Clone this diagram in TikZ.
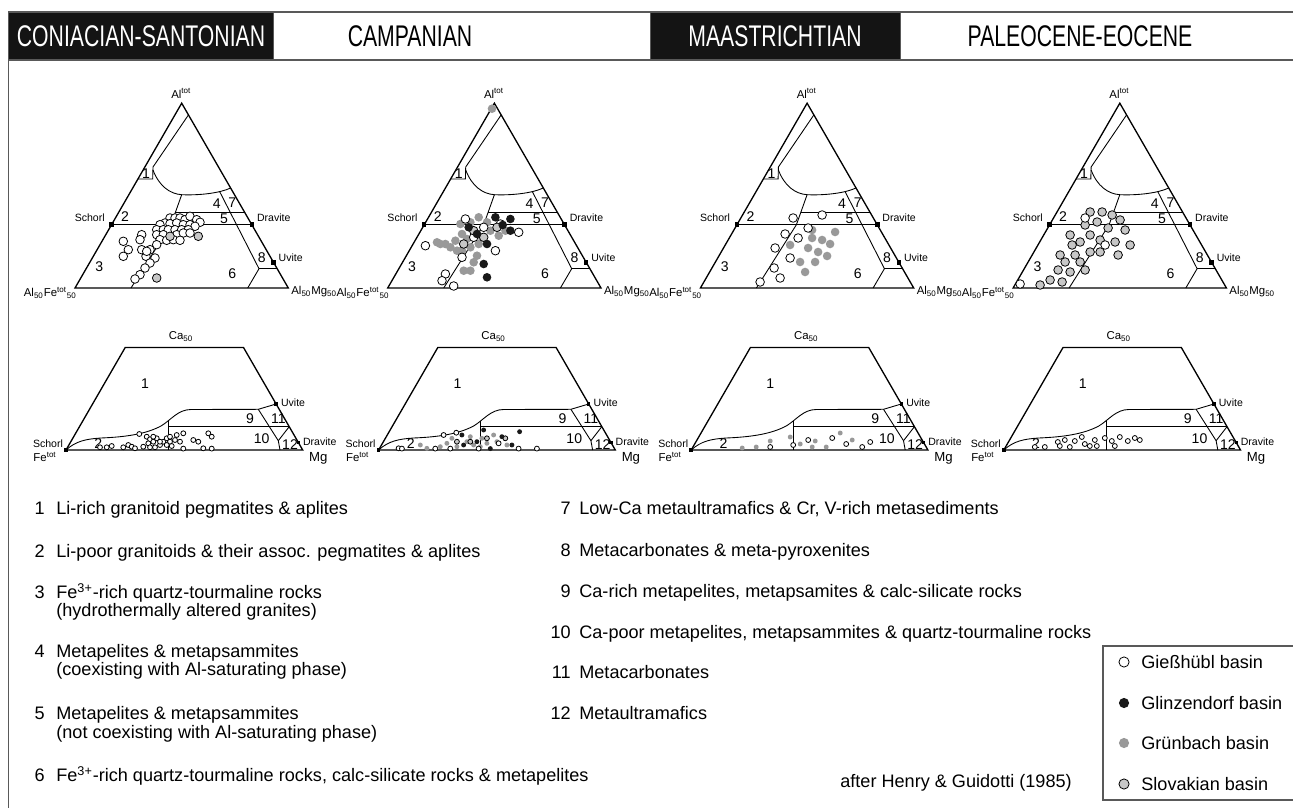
\documentclass[tikz,border=0pt]{standalone}
\usepackage{fontspec}
\setmainfont{Liberation Sans}
\newfontfamily\narrowsans[FakeStretch=0.71]{Liberation Sans}
\usetikzlibrary{positioning}

\newcommand\fsz[1]{\fontsize{#1}{#1}\selectfont}

% Al - Al50Fe50 - Al50Mg50 frame, local units, y pointing up
\newcommand\drawAFM[1]{%
  \draw[triedge] (0,0) coordinate (#1-fe) -- (213.3,0) coordinate (#1-mg)
    -- (106.7,184.8) coordinate (#1-al) -- cycle;
  \coordinate (#1-sch) at (36.5,63.3);
  \coordinate (#1-dra) at (176.8,63.3);
  \coordinate (#1-uvi) at (198.5,25.7);
  \coordinate (#1-k) at (106.7,93.3);
  \coordinate (#1-j) at (184,19.3);
  \draw[fld] (#1-sch) -- (#1-dra);
  \draw[fld] (100.4,75.7) -- (169.6,75.7);
  \draw[fld] (62.9,109) -- (77.7,109) -- (78,121) -- (113.4,173);
  \draw[fld] (78,118) .. controls (84,102) and (95,94) .. (#1-k)
    .. controls (125,92.5) and (145,95) .. (155.6,100);
  \draw[fld] (#1-k) -- (96,63.3) -- (56,0);
  \draw[fld] (144.6,96.5) -- (#1-j) -- (172.7,0);
  \draw[fld] (#1-j) -- (202.2,19.3);
  \node[sq] (#1-msch) at (#1-sch) {};
  \node[sq] (#1-mdra) at (#1-dra) {};
  \node[sq] (#1-muvi) at (#1-uvi) {};
  \node[fno] (#1-f1) at (71,114.3) {1};
  \node[fno] (#1-f2) at (50,71.7) {2};
  \node[fno] (#1-f3) at (24.3,21.7) {3};
  \node[fno] (#1-f4) at (141.7,84.3) {4};
  \node[fno] (#1-f5) at (149,69.3) {5};
  \node[fno] (#1-f6) at (157.3,14.3) {6};
  \node[fno] (#1-f7) at (157.3,85) {7};
  \node[fno] (#1-f8) at (186.7,30) {8};
  \node[emb, anchor=east] (#1-lsch) at (30,70.7) {Schorl};
  \node[emb, anchor=west] (#1-ldra) at (181.7,70.7) {Dravite};
  \node[emb, anchor=west] (#1-luvi) at (203.3,30.7) {Uvite};
  \node[cor] (#1-lal) at (106.3,194.7) {Al\textsuperscript{tot}};
  \node[cor, anchor=east] (#1-lfe) at (2,-5) {Al\textsubscript{50}Fe\textsuperscript{tot}\textsubscript{50}};
  \node[cor, anchor=west] (#1-lmg) at (216,-4) {Al\textsubscript{50}Mg\textsubscript{50}};
}

% Ca - Fe - Mg frame (lower half), local units, y pointing up
\newcommand\drawCFM[1]{%
  \draw[triedge] (0,0) coordinate (#1-fe) -- (236.7,0) coordinate (#1-mg)
    -- (177.5,102.5) -- (59.2,102.5) -- cycle;
  \coordinate (#1-uvi) at (210.1,46);
  \coordinate (#1-dra) at (232.5,7.3);
  \coordinate (#1-b) at (192.3,40.7);
  \coordinate (#1-c) at (212.3,9.3);
  \draw[fld] (#1-fe) .. controls (10,9) and (20,11) .. (35,12)
    .. controls (60,13) and (80,16) .. (95,24)
    .. controls (105,30) and (112,40.5) .. (125,40.5) -- (#1-b) -- (#1-uvi);
  \draw[fld] (102.3,29.1) -- (102.3,0);
  \draw[fld] (102.3,23.3) -- (223.2,23.3);
  \draw[fld] (#1-b) -- (#1-c) -- (214,0);
  \draw[fld] (#1-c) -- (223.2,23.3);
  \node[sqs] (#1-mfe) at (#1-fe) {};
  \node[sqs] (#1-muvi) at (#1-uvi) {};
  \node[sqs] (#1-mdra) at (#1-dra) {};
  \node[fno] (#1-f1) at (79,66) {1};
  \node[fno] (#1-f2) at (32.3,6.7) {2};
  \node[fno] (#1-f9) at (184,31.7) {9};
  \node[fno] (#1-f11) at (212.3,31.7) {11};
  \node[fno] (#1-f10) at (195.7,11.7) {10};
  \node[fno] (#1-f12) at (224,5) {12};
  \node[cor] (#1-lca) at (115,113) {Ca\textsubscript{50}};
  \node[emb, anchor=west] (#1-luvi) at (214.7,47.3) {Uvite};
  \node[emb, anchor=west] (#1-ldra) at (236.7,8.3) {Dravite};
  \node[emb] (#1-lsch) at (-18,6) {Schorl};
  \node[cor] (#1-lfe) at (-21,-7) {Fe\textsuperscript{tot}};
  \node[font=\fsz{7.5}, inner sep=0pt] (#1-lmg) at (252.3,-8.3) {Mg};
}

\begin{document}
\begin{tikzpicture}[x=0.02cm, y=-0.02cm,
  rim/.style={draw=black!65, line width=0.8pt},
  cell/.style={minimum height=0.96cm, inner sep=0pt, outer sep=0pt, draw=black!65, line width=0.8pt},
  darkcell/.style={cell, fill=black!92},
  lightcell/.style={cell, fill=white},
  hdr/.style={font=\narrowsans\fsz{17}, inner sep=0pt},
  triedge/.style={line width=0.75pt},
  fld/.style={line width=0.5pt},
  fno/.style={font=\fsz{8}, inner sep=0pt},
  emb/.style={font=\fsz{6}, inner sep=0pt},
  cor/.style={font=\fsz{6.5}, inner sep=0pt},
  sq/.style={fill=black, inner sep=0pt, minimum size=2.6pt},
  sqs/.style={fill=black, inner sep=0pt, minimum size=2pt},
  dotbig/.style={radius=2.45pt},
  dotsmall/.style={radius=1.4pt},
  dotlegend/.style={radius=2.9pt},
  gies/.style={draw=black, fill=white, line width=0.45pt},
  glin/.style={fill=black!90},
  grun/.style={fill=black!40},
  slov/.style={draw=black, fill=black!22, line width=0.45pt},
  expl/.style={font=\fsz{10.3}, inner sep=0pt, anchor=base west},
  num/.style={font=\fsz{10.3}, inner sep=0pt, anchor=base east}
]
\useasboundingbox (0,0) rectangle (1293,807);
\clip (0,0) rectangle (1293,807);

% frame and header
\draw[rim] (8.5,830) -- (8.5,12) -- (1310,12);
\node[darkcell, minimum width=5.3cm, anchor=north west] (hd1) at (8.5,12) {};
\node[lightcell, minimum width=7.54cm, right=0pt of hd1] (hd2) {};
\node[darkcell, minimum width=5.0cm, right=0pt of hd2] (hd3) {};
\node[lightcell, minimum width=8.2cm, right=0pt of hd3] (hd4) {};
\node[hdr, text=white] (hc1) at (141,36) {CONIACIAN-SANTONIAN};
\node[hdr] (hc2) at (410,36) {CAMPANIAN};
\node[hdr, text=white] (hc3) at (775,36) {MAASTRICHTIAN};
\node[hdr] (hc4) at (1080,36) {PALEOCENE-EOCENE};

% Coniacian-Santonian
\begin{scope}[shift={(75,288)}, yscale=-1]
  \drawAFM{ta}
  \foreach \a/\b in {95/70,100/70,105/70,110/68.3,115/71.7,121.7/68.3,125/65.7,90/65,85/63.3,
      95/64.3,101.7/65,108.3/63.3,115/63.3,120/61.7,81.7/58.3,88.3/58.3,93.3/58.3,100/58.3,
      106.7/58.3,113.3/58.3,81.7/53.3,88.3/53.3,101.7/53.3,108.3/55,115/55,85/48.3,91.7/47.7,
      98.3/48.3,105/47.7,81.7/43.3,75/38.3,66.7/53.3,65/48.3,48.3/46.7,53.3/38.3,48.3/31.7,
      66.7/38.3,71/31.7,80/30,75/25,70/20,65/13.3,60/9,71.7/36.7}
    \path[gies, dotbig] (\a,\b) circle;
  \foreach \a/\b in {123.3/51.7,95/51.7,81.7/10}
    \path[slov, dotbig] (\a,\b) circle;
\end{scope}
\begin{scope}[shift={(66,450)}, yscale=-1]
  \drawCFM{ba}
  \foreach \a/\b in {34/2.7,40.7/2.7,45.7/4,57.3/2.7,62.3/5,65.7/3.3,69/1.7,73.3/16,80.7/13.3,
      84/10.7,82.3/6.7,87.3/8.3,90.7/11.7,84/2.7,89/2.7,94/5,97.3/8.3,100.7/11.7,104/8.3,
      105.7/4,109/10,110.7/15,114/8.3,117.3/16.7,127.3/10,132.3/8.3,142.3/16.7,145.7/13.3,
      137.3/1.7,145.7/1.4,117.3/1.4,94/8.3,100.7/5,87.3/13.3,77.3/3.3,104/13.3}
    \path[gies, dotsmall] (\a,\b) circle;
\end{scope}

% Campanian
\begin{scope}[shift={(387.7,288)}, yscale=-1]
  \drawAFM{tb}
  \foreach \a/\b in {104.3/179.3,49.3/45.7,57.7/44,62.7/40.7,67.7/47.3,74.3/54,72.7/64,82.7/65.7,
      91/70.7,99.3/65.7,102.7/57.3,111/52.3,117.7/57.3,91/44,82.7/40.7,74.3/37.3,89.3/32.3,
      86/25.7,76/17.3,82.7/17.3,94.3/50.7,79.3/49,69.3/37.3,52.7/44}
    \path[grun, dotbig] (\a,\b) circle;
  \foreach \a/\b in {77.7/69,37.7/42.3,57.7/14,54.3/7.3,66/2,74.3/30.7,131/55.7,107.7/37.3,
      96/60.7,86/50.7,112.7/64}
    \path[gies, dotbig] (\a,\b) circle;
  \foreach \a/\b in {96/50.7,109.3/60.7,86/57.3,76/44}
    \path[slov, dotbig] (\a,\b) circle;
  \foreach \a/\b in {107.7/70.7,122.7/69,122.7/57.3,81/60.7,89.3/54,96/24,99.3/10.7,99.3/44,115/63}
    \path[glin, dotbig] (\a,\b) circle;
\end{scope}
\begin{scope}[shift={(378.6,450)}, yscale=-1]
  \drawCFM{bb}
  \foreach \a/\b in {41.7/5,48.3/1.7,68.3/6.7,78.3/3.3,88.3/8.3,95/5,103.3/11.7,108.3/6.7,
      118.3/8.3,128.3/5,91.7/13.3,73.3/11.7,115/15,61.7/3.3,101.7/3.3}
    \path[grun, dotsmall] (\a,\b) circle;
  \foreach \a/\b in {20/1.7,23.3/1.4,56.7/1.4,65/15,77.7/17.3,140/1.4,158.3/1.4,120/6.7,71.7/1.4,100/1.4}
    \path[gies, dotsmall] (\a,\b) circle;
  \foreach \a/\b in {91.7/8.3,126.7/11.7,78.3/8.3,108.3/11.7}
    \path[slov, dotsmall] (\a,\b) circle;
  \foreach \a/\b in {105/20,141/18.3,123.3/13.3,133.3/5,111.7/1.4,85/5,98.3/8.3,83.3/15}
    \path[glin, dotsmall] (\a,\b) circle;
\end{scope}

% Maastrichtian
\begin{scope}[shift={(700.4,288)}, yscale=-1]
  \drawAFM{tc}
  \foreach \a/\b in {111.7/50,121.7/48,129.7/44,107.7/40,117.7/36,126.7/32,114.7/26,99.7/26,
      134.7/56,89.7/43,104.7/16,111.7/58}
    \path[grun, dotbig] (\a,\b) circle;
  \foreach \a/\b in {92.7/70,121.7/73,107.7/60,84.7/54,74.7/40,89.7/30,73.7/20,59.7/6,79.7/10,97.7/50}
    \path[gies, dotbig] (\a,\b) circle;
\end{scope}
\begin{scope}[shift={(691.2,450)}, yscale=-1]
  \drawCFM{bc}
  \foreach \a/\b in {51/2,65/3,99/13,109/6,124/9,135/3,149/17,161/10,79/9,121/3}
    \path[grun, dotsmall] (\a,\b) circle;
  \foreach \a/\b in {79/3,102/5,117/10,141/12,155/6,171/3,179/8}
    \path[gies, dotsmall] (\a,\b) circle;
\end{scope}

% Paleocene-Eocene
\begin{scope}[shift={(1013.1,288)}, yscale=-1]
  \drawAFM{td}
  \foreach \a/\b in {77/76,89/76,99/73,107/68,84/66,72/63,95/60,112/58,57/53,77/53,67/46,87/48,
      102/46,117/43,62/33,77/36,52/26,67/26,45/18,57/16,37/8,49/6,27/3,87/36,105/33,72/18,59/43,47/33}
    \path[slov, dotbig] (\a,\b) circle;
  \foreach \a/\b in {7/4,72/70,92/43}
    \path[gies, dotbig] (\a,\b) circle;
\end{scope}
\begin{scope}[shift={(1003.8,450)}, yscale=-1]
  \drawCFM{bd}
  \foreach \a/\b in {31/3,41/3,54/8,61/10,71/9,81/6,91/10,101/12,108/9,116/13,124/9,131/12,
      136/10,93/4,66/3,78/13,56/4,86/4,111/4}
    \path[gies, dotsmall] (\a,\b) circle;
\end{scope}

% field explanations
\node[num] (n1) at (45,514.5) {1};
\node[expl] (e1) at (56,514.5) {Li-rich granitoid pegmatites \& aplites};
\node[num] (n2) at (45,557.5) {2};
\node[expl] (e2) at (56,557.5) {Li-poor granitoids \& their assoc. pegmatites \& aplites};
\node[num] (n3) at (45,598.5) {3};
\node[expl] (e3) at (56,598.5) {Fe\textsuperscript{3+}-rich quartz-tourmaline rocks};
\node[expl] (e3b) at (56,616.5) {(hydrothermally altered granites)};
\node[num] (n4) at (45,657.5) {4};
\node[expl] (e4) at (56,657.5) {Metapelites \& metapsammites};
\node[expl] (e4b) at (56,675.5) {(coexisting with Al-saturating phase)};
\node[num] (n5) at (45,719.5) {5};
\node[expl] (e5) at (56,719.5) {Metapelites \& metapsammites};
\node[expl] (e5b) at (56,738.5) {(not coexisting with Al-saturating phase)};
\node[num] (n6) at (45,781.5) {6};
\node[expl] (e6) at (56,781.5) {Fe\textsuperscript{3+}-rich quartz-tourmaline rocks, calc-silicate rocks \& metapelites};

\node[num] (n7) at (571,514.5) {7};
\node[expl] (e7) at (579,514.5) {Low-Ca metaultramafics \& Cr, V-rich metasediments};
\node[num] (n8) at (571,556.5) {8};
\node[expl] (e8) at (579,556.5) {Metacarbonates \& meta-pyroxenites};
\node[num] (n9) at (571,597.5) {9};
\node[expl] (e9) at (579,597.5) {Ca-rich metapelites, metapsamites \& calc-silicate rocks};
\node[num] (n10) at (571,638.5) {10};
\node[expl] (e10) at (579,638.5) {Ca-poor metapelites, metapsammites \& quartz-tourmaline rocks};
\node[num] (n11) at (571,678.5) {11};
\node[expl] (e11) at (579,678.5) {Metacarbonates};
\node[num] (n12) at (571,719.5) {12};
\node[expl] (e12) at (579,719.5) {Metaultramafics};
\node[expl] (src) at (840,787.5) {after Henry \& Guidotti (1985)};

% legend
\coordinate (lg-nw) at (1103,646);
\coordinate (lg-sw) at (1103,800);
\draw[rim] (1310,646) -- (lg-nw) -- (lg-sw) -- (1310,800);
\path[gies, dotlegend] (1124,662) circle;
\node[expl] (lg1) at (1141,668.5) {Gießhübl basin};
\path[glin, dotlegend] (1124,703) circle;
\node[expl] (lg2) at (1141,709.5) {Glinzendorf basin};
\path[grun, dotlegend] (1124,743) circle;
\node[expl] (lg3) at (1141,749.5) {Grünbach basin};
\path[slov, dotlegend] (1124,784) circle;
\node[expl] (lg4) at (1141,790.5) {Slovakian basin};
\end{tikzpicture}
\end{document}
